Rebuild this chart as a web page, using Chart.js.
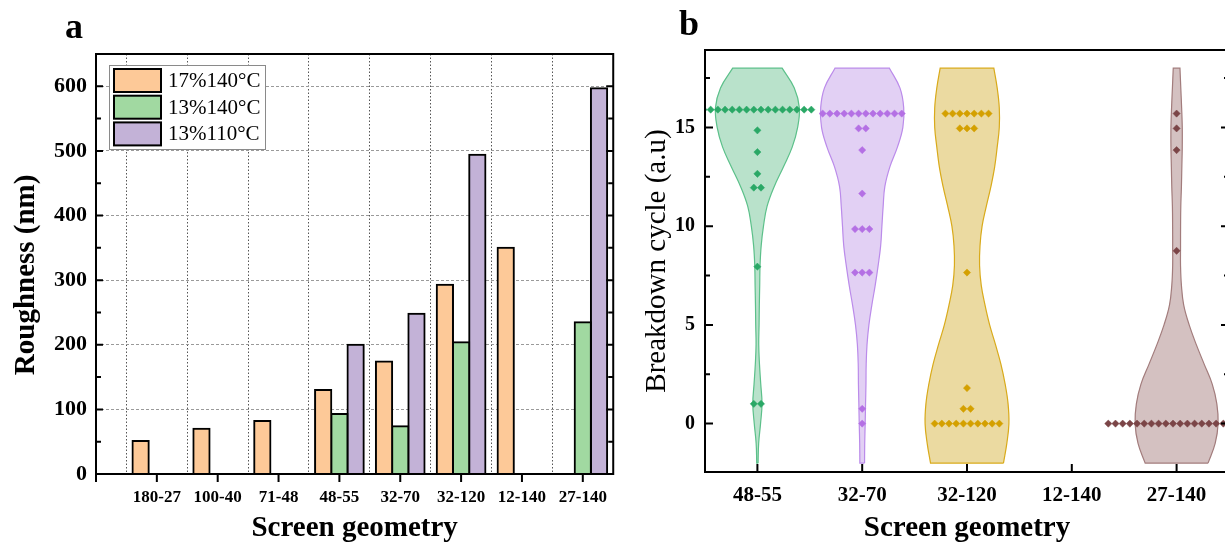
<!DOCTYPE html>
<html><head><meta charset="utf-8">
<script src="https://cdn.jsdelivr.net/npm/chart.js@4.4.1/dist/chart.umd.min.js"></script>
<style>
html,body{margin:0;padding:0;background:#fff;overflow:hidden;width:1225px;height:544px}
#wa{position:absolute;left:0;top:0;width:620px;height:544px}
#wb{position:absolute;left:620px;top:0;width:620px;height:544px}
.pl{position:absolute;font:bold 36px/36px 'Liberation Serif',serif;color:#000}
</style></head><body>
<div id="wa"><canvas id="ca" width="620" height="544"></canvas></div>
<div id="wb"><canvas id="cb" width="620" height="544"></canvas></div>
<div class="pl" style="left:65px;top:8px">a</div>
<div class="pl" style="left:679px;top:5px">b</div>
<script>
// ---------- Panel a data ----------
const roughCategories = ['180-27','100-40','71-48','48-55','32-70','32-120','12-140','27-140'];
const roughSeriesNames = ['17%140°C','13%140°C','13%110°C'];
const rough17_140 = [51, 70, 82, 130, 174, 293, 350, null];
const rough13_140 = [null, null, null, 93, 74, 204, null, 235];
const rough13_110 = [null, null, null, 200, 248, 494, null, 597];

// ---------- Panel b data ----------
const cycleCategories = ['48-55','32-70','32-120','12-140','27-140'];
const cycle48_55 = [15.9,15.9,15.9,15.9,15.9,15.9,15.9,15.9,15.9,15.9,15.9,15.9,15.9,15.9,15.9,15.9,
  14.85,13.75,12.65,11.95,11.95,7.95,1.0,1.0];
const cycle32_70 = [15.7,15.7,15.7,15.7,15.7,15.7,15.7,15.7,15.7,15.7,15.7,15.7,
  14.95,14.95,13.85,11.65,9.85,9.85,9.85,7.65,7.65,7.65,0.75,0];
const cycle32_120 = [15.7,15.7,15.7,15.7,15.7,15.7,15.7,14.95,14.95,14.95,7.65,1.8,0.75,0.75,
  0,0,0,0,0,0,0,0,0,0];
const cycle27_140 = [15.7,14.95,13.85,8.75,0,0,0,0,0,0,0,0,0,0,0,0,0,0,0,0,0,0,0,0];
// violin outline: relative density (0-1) read at these levels
const violinLevels = [-2,-1,0,1,2,3,4,5,6,7,8,9,10,11,12,13,14,15,16,17,18];
const dens48_55 = [0.016,0.03,0.075,0.11,0.08,0.05,0.032,0.04,0.046,0.055,0.063,0.09,0.145,0.23,0.40,0.62,0.83,0.96,1.0,0.88,0.59];
const dens32_70 = [0.056,0.06,0.071,0.08,0.09,0.095,0.115,0.16,0.23,0.31,0.38,0.44,0.47,0.50,0.54,0.66,0.84,0.97,0.99,0.90,0.65];
const dens32_120 = [0.87,0.95,1.0,0.98,0.91,0.81,0.68,0.54,0.43,0.34,0.30,0.31,0.36,0.46,0.57,0.66,0.72,0.77,0.77,0.72,0.64];
const dens27_140 = [0.75,0.92,0.99,0.96,0.85,0.66,0.47,0.30,0.17,0.115,0.094,0.094,0.095,0.10,0.115,0.125,0.135,0.135,0.12,0.10,0.08];

Chart.defaults.font.family = '"Liberation Serif","Times New Roman",serif';
Chart.defaults.color = '#000';

const frameTicks = {
  id: 'frameTicks',
  afterDraw(chart, args, o) {
    const {ctx, chartArea: a} = chart;
    const xs = chart.scales.x, ys = chart.scales.y;
    ctx.save();
    ctx.strokeStyle = '#000'; ctx.lineWidth = 2; ctx.lineCap = 'butt';
    ctx.beginPath();
    const step = ys.options.ticks.stepSize;
    const yv = [];
    ys.ticks.forEach(t => {
      yv.push([t.value, o.yMajor]);
      const m = t.value + step / 2; if (m < ys.max) yv.push([m, o.yMinor]);
    });
    const m0 = ys.ticks[0].value - step / 2; if (m0 > ys.min) yv.push([m0, o.yMinor]);
    yv.forEach(([v, len]) => {
      const py = ys.getPixelForValue(v);
      ctx.moveTo(a.left, py); ctx.lineTo(a.left + len, py);
      ctx.moveTo(a.right, py); ctx.lineTo(a.right - len, py);
    });
    xs.ticks.forEach(t => {
      const px = xs.getPixelForValue(t.value);
      ctx.moveTo(px, a.bottom); ctx.lineTo(px, a.bottom + o.xDir * o.xLen);
    });
    ctx.stroke();
    ctx.strokeRect(a.left, a.top, a.right - a.left, a.bottom - a.top);
    ctx.restore();
  }
};

const boxLegend = {
  id: 'boxLegend',
  afterDatasetsDraw(chart, args, o) {
    const {ctx} = chart;
    ctx.save();
    ctx.fillStyle = '#fff'; ctx.fillRect(o.x, o.y, o.w, o.h);
    ctx.strokeStyle = '#8a8a8a'; ctx.lineWidth = 1; ctx.strokeRect(o.x + 0.5, o.y + 0.5, o.w, o.h);
    chart.data.datasets.forEach((ds, i) => {
      const ry = o.y + o.pad + i * o.row;
      ctx.fillStyle = ds.backgroundColor; ctx.fillRect(o.x + 5, ry, o.bw, o.bh);
      ctx.strokeStyle = '#000'; ctx.lineWidth = 2; ctx.strokeRect(o.x + 5, ry, o.bw, o.bh);
      ctx.fillStyle = '#000'; ctx.font = o.font; ctx.textBaseline = 'middle'; ctx.textAlign = 'left';
      ctx.fillText(ds.label, o.x + o.bw + 12, ry + o.bh / 2 + 1);
    });
    ctx.restore();
  }
};

// ---------- Chart a ----------
const barColors = ['#fdc998', '#a1d9a1', '#c3b2d7'];
const roughSeries = [rough17_140, rough13_140, rough13_110];
new Chart(document.getElementById('ca'), {
  type: 'bar',
  data: {
    datasets: roughSeries.map((arr, i) => ({
      label: roughSeriesNames[i],
      data: arr.map((v, k) => ({x: k, y: v})),
      backgroundColor: barColors[i], borderColor: '#000', borderWidth: 2,
      inflateAmount: 1, categoryPercentage: 0.8, barPercentage: 1
    }))
  },
  options: {
    responsive: false, animation: false, events: [],
    layout: {padding: {top: 54, right: 2, left: 0, bottom: 0}},
    plugins: {
      legend: {display: false}, tooltip: {enabled: false},
      boxLegend: {x: 109, y: 65, w: 156, h: 84, pad: 4, row: 26.7, bw: 47, bh: 23, font: '21px "Liberation Serif"'},
      frameTicks: {yMajor: 7, yMinor: 5, xDir: 1, xLen: 8}
    },
    scales: {
      x: {
        type: 'linear', min: -1, max: 7.5, offset: false,
        afterBuildTicks: s => { s.ticks = [-1].concat(roughCategories.map((c, i) => i)).map(v => ({value: v})); },
        grid: {offset: true, color: '#555', lineWidth: 1, drawTicks: false},
        border: {display: false, dash: [1.5, 2]},
        ticks: {autoSkip: false, maxRotation: 0, padding: 13,
          font: {size: 17, weight: 'bold'}, callback: v => roughCategories[v] ?? ''},
        title: {display: true, text: 'Screen geometry', font: {size: 29, weight: 'bold', lineHeight: 1}, padding: {top: 0, bottom: 0.5}},
        afterFit: s => { s.height = 70; }
      },
      y: {
        type: 'linear', min: 0, max: 650,
        grid: {color: c => (c.tick && c.tick.value > 0) ? '#9a9a9a' : 'rgba(0,0,0,0)', lineWidth: 1, drawTicks: false},
        border: {display: false, dash: [3, 2]},
        ticks: {stepSize: 100, includeBounds: false, padding: 9, font: {size: 22, weight: 'bold'}},
        title: {display: true, text: 'Roughness (nm)   ', font: {size: 29, weight: 'bold', lineHeight: 1}, padding: {top: 12.5, bottom: 0}},
        afterFit: s => { s.width = 96; }
      }
    }
  },
  plugins: [boxLegend, frameTicks]
});

// ---------- Chart b ----------
const violinHalfMax = 0.4;   // style: max half-width of a violin (category units)
const dotGap = 0.0686;        // style: horizontal spacing of coincident dots
function violinOutline(c, dens) {
  const R = violinLevels.map((y, k) => ({x: c + violinHalfMax * dens[k], y}));
  const L = violinLevels.map((y, k) => ({x: c - violinHalfMax * dens[k], y})).reverse();
  return [R[0], ...R, R[R.length - 1], L[0], ...L, L[L.length - 1], R[0], R[0]];
}
function dotPoints(c, values) {
  const counts = {}; values.forEach(v => counts[v] = (counts[v] || 0) + 1);
  const seen = {};
  return values.map(v => {
    const k = seen[v] = (seen[v] === undefined ? 0 : seen[v] + 1);
    return {x: c + (k - (counts[v] - 1) / 2) * dotGap, y: v};
  });
}
const groups = [
  {name: '48-55', values: cycle48_55, dens: dens48_55, fill: '#b9e2cb', line: '#5cc08a', dot: '#2aa866'},
  {name: '32-70', values: cycle32_70, dens: dens32_70, fill: '#e2d0f4', line: '#bb8bea', dot: '#b470e4'},
  {name: '32-120', values: cycle32_120, dens: dens32_120, fill: '#ebdaa1', line: '#d9aa1a', dot: '#d4a000'},
  {name: '27-140', values: cycle27_140, dens: dens27_140, fill: '#d4c1c1', line: '#a27c7c', dot: '#7b4547'}
];
const dsB = [];
groups.forEach(g => {
  const c = cycleCategories.indexOf(g.name);
  dsB.push({type: 'line', data: violinOutline(c, g.dens), fill: 'shape', backgroundColor: g.fill,
    borderColor: g.line, borderWidth: 1.2, pointRadius: 0, pointHoverRadius: 0, tension: 0.4, order: 2});
  dsB.push({type: 'line', showLine: false, data: dotPoints(c, g.values), pointStyle: 'rectRot',
    pointRadius: 3.6, pointBackgroundColor: g.dot, pointBorderColor: g.dot, pointBorderWidth: 0.5, order: 1, clip: 0});
});
new Chart(document.getElementById('cb'), {
  type: 'line',
  data: {datasets: dsB},
  options: {
    responsive: false, animation: false, events: [],
    layout: {padding: {top: 50, right: 11, left: 0, bottom: 0}},
    plugins: {legend: {display: false}, tooltip: {enabled: false},
      frameTicks: {yMajor: 8, yMinor: 5, xDir: -1, xLen: 8}},
    scales: {
      x: {
        type: 'linear', min: -0.5, max: 4.5,
        afterBuildTicks: s => { s.ticks = cycleCategories.map((c, i) => ({value: i})); },
        grid: {display: false, drawTicks: false}, border: {display: false},
        ticks: {autoSkip: false, maxRotation: 0, padding: 11,
          font: {size: 21, weight: 'bold'}, callback: v => cycleCategories[v] ?? ''},
        title: {display: true, text: 'Screen geometry', font: {size: 29, weight: 'bold', lineHeight: 1}, padding: {top: 0, bottom: 0.5}},
        afterFit: s => { s.height = 72; }
      },
      y: {
        type: 'linear', min: -2.45, max: 18.92,
        grid: {display: false, drawTicks: false}, border: {display: false},
        ticks: {stepSize: 5, includeBounds: false, padding: 10, font: {size: 20, weight: 'bold'}},
        title: {display: true, text: 'Breakdown cycle (a.u)', font: {size: 29, lineHeight: 1}, padding: {top: 22.5, bottom: 0}},
        afterFit: s => { s.width = 85; }
      }
    }
  },
  plugins: [frameTicks]
});
</script>
</body></html>
